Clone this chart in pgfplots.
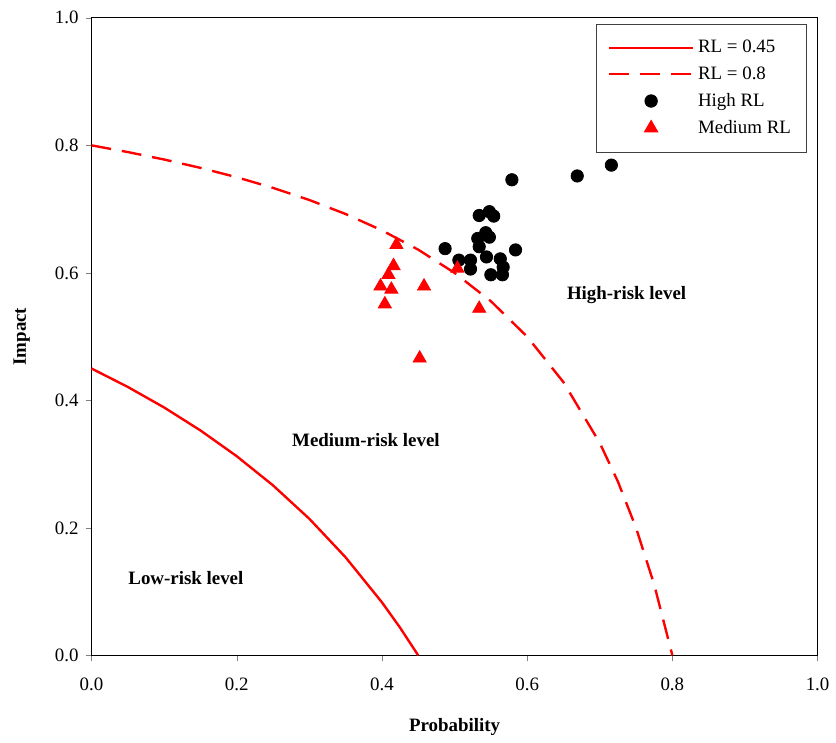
\documentclass[border=0pt]{standalone}
\usepackage{fontspec}
\setmainfont{Liberation Serif}
\usepackage{pgfplots}
\pgfplotsset{compat=1.18}
\begin{document}
\begin{tikzpicture}
\begin{axis}[
    scale only axis,
    width=365pt, height=320.5pt,
    xmin=0, xmax=1, ymin=0, ymax=1,
    xtick={0,0.2,...,1.0}, ytick={0,0.2,...,1.0},
    tick align=outside, tick pos=left,
    major tick length=3pt,
    /pgf/number format/assume math mode=true,
    /pgf/number format/.cd, fixed, fixed zerofill, precision=1, /pgfplots/.cd,
    tick label style={font=\fontsize{9.5}{11}\selectfont},
    xticklabel style={yshift=-5pt},
    xlabel={\textbf{Probability}},
    ylabel={\textbf{Impact}},
    xlabel style={font=\fontsize{9.5}{11}\selectfont, at={(axis description cs:0.5,-0.112)}, anchor=center},
    ylabel style={font=\fontsize{9.5}{11}\selectfont, at={(axis description cs:-0.096,0.5)}, anchor=center},
    axis line style={line width=0.6pt},
    legend style={at={(0.986,0.991)}, anchor=north east, draw=black!75, line width=0.5pt,
        font=\fontsize{9.5}{11}\selectfont, row sep=1.5pt, inner xsep=6pt, inner ysep=6pt},
    legend cell align=left,
    legend image code/.code={
        \draw[mark repeat=2, mark phase=2, #1] plot coordinates {(0pt,0pt) (21pt,0pt) (42pt,0pt)};
    },
    clip=false,
]
    % RL = 0.45
    \addplot[red, line width=1.2pt, mark=none] coordinates {
        (0,0.45) (0.05,0.4211) (0.1,0.3889) (0.15,0.3529) (0.2,0.3125)
        (0.25,0.2667) (0.3,0.2143) (0.35,0.1538) (0.4,0.0833) (0.425,0.0435) (0.45,0)
    };
    \addlegendentry{RL = 0.45}
    % RL = 0.8
    \addplot[red, line width=1.2pt, mark=none, dash pattern=on 10pt off 5.5pt] coordinates {
        (0,0.8) (0.05,0.7895) (0.1,0.7778) (0.15,0.7647) (0.2,0.75)
        (0.25,0.7333) (0.3,0.7143) (0.35,0.6923) (0.4,0.6667) (0.45,0.6364)
        (0.5,0.6) (0.55,0.5556) (0.6,0.5) (0.65,0.4286) (0.7,0.3333)
        (0.725,0.2727) (0.75,0.2) (0.775,0.1111) (0.8,0)
    };
    \addlegendentry{RL = 0.8}
    % high risk points
    \addplot[only marks, mark=*, mark size=3.1pt, black] coordinates {
        (0.534,0.690) (0.548,0.696) (0.554,0.689) (0.532,0.654) (0.543,0.663)
        (0.548,0.656) (0.534,0.641) (0.544,0.625) (0.487,0.638) (0.506,0.620)
        (0.522,0.620) (0.522,0.606) (0.563,0.622) (0.567,0.609) (0.550,0.597)
        (0.566,0.597) (0.584,0.636) (0.579,0.746) (0.669,0.752) (0.716,0.769)
    };
    \addlegendentry{High RL}
    % medium risk points
    \addplot[only marks, mark=triangle*, mark size=3.8pt, red] coordinates {
        (0.420,0.644) (0.416,0.611) (0.409,0.597) (0.398,0.579) (0.413,0.574)
        (0.404,0.551) (0.458,0.579) (0.504,0.607) (0.534,0.544) (0.452,0.466)
    };
    \addlegendentry{Medium RL}
    \node[font=\bfseries\fontsize{9.5}{11}\selectfont] at (axis cs:0.737,0.565) {High-risk level};
    \node[font=\bfseries\fontsize{9.5}{11}\selectfont] at (axis cs:0.378,0.337) {Medium-risk level};
    \node[font=\bfseries\fontsize{9.5}{11}\selectfont] at (axis cs:0.130,0.122) {Low-risk level};
    % margins as in the reference
    \path (axis description cs:-0.126,-0.133) (axis description cs:1.019,1.028);
\end{axis}
\end{tikzpicture}
\end{document}
